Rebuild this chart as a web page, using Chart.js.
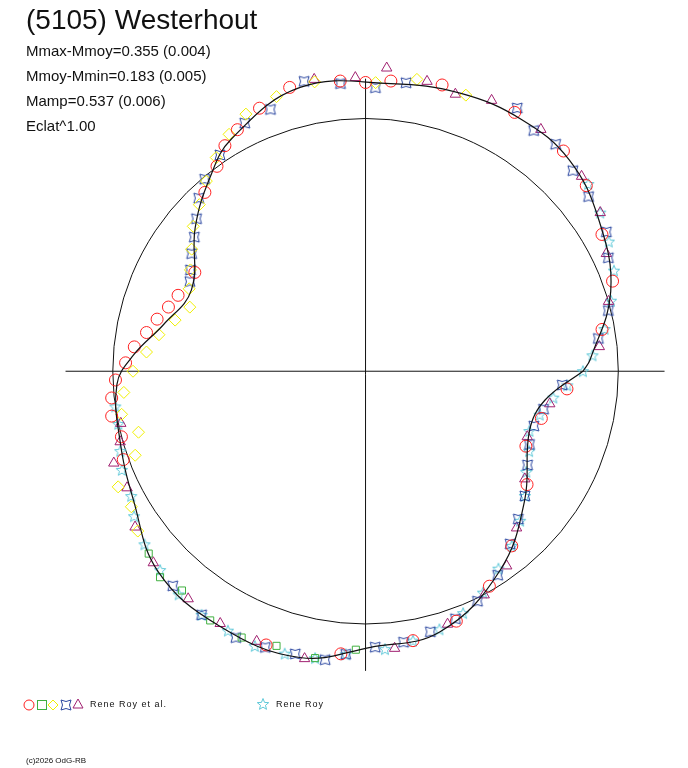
<!DOCTYPE html>
<html><head><meta charset="utf-8">
<script src="https://cdn.jsdelivr.net/npm/chart.js@4"></script>
<style>
body{margin:0;background:#fff;font-family:"Liberation Sans",Arial,sans-serif;}
#wrap{position:relative;width:688px;height:768px;}
.t{position:absolute;color:#111;white-space:nowrap;}
</style></head><body>
<div id="wrap">
<canvas id="c" width="688" height="768"></canvas>
<div class="t" style="left:26px;top:4px;font-size:28px;">(5105) Westerhout</div>
<div class="t" style="left:26px;top:42px;font-size:15px;">Mmax-Mmoy=0.355 (0.004)</div>
<div class="t" style="left:26px;top:67px;font-size:15px;">Mmoy-Mmin=0.183 (0.005)</div>
<div class="t" style="left:26px;top:92px;font-size:15px;">Mamp=0.537 (0.006)</div>
<div class="t" style="left:26px;top:117px;font-size:15px;">Eclat^1.00</div>
<div class="t" style="left:90px;top:699px;font-size:9px;letter-spacing:1px;">Rene Roy et al.</div>
<div class="t" style="left:276px;top:699px;font-size:9px;letter-spacing:1px;">Rene Roy</div>
<div class="t" style="left:26px;top:756px;font-size:8px;">(c)2026 OdG-RB</div>
</div>
<script>
// Model curve (angle deg, radius in circle units)
const modelAng = [0,3,18,33,46,58,71,85,103,120,129,140,155,167,176,183,196,209,224,240,257,271,286,304,321,340,351,360];
const modelR   = [0.86,0.89,1.02,1.10,1.16,1.17,1.16,1.14,1.15,1.06,0.98,0.88,0.76,0.82,0.92,0.985,1.01,1.05,1.14,1.16,1.16,1.09,1.07,0.95,0.81,0.69,0.72,0.86];

const redAng = [95,105,112,118,122,126,132,150,158,162,166,170,174,178,182,186,190,195,200,60,48,40,30,20,10,355,345,335,325,310,300,290,280,265,250,75,85,90];
const redR   = [1.15,1.16,1.12,1.08,1.05,1.0,0.95,0.78,0.80,0.82,0.85,0.88,0.92,0.95,0.99,1.01,1.02,1.0,1.02,1.18,1.17,1.14,1.08,1.04,0.95,0.8,0.72,0.7,0.78,0.9,0.98,1.05,1.08,1.12,1.15,1.17,1.15,1.14];
const greenAng = [220,225,230,238,245,252,260,268];
const greenR   = [1.12,1.15,1.13,1.16,1.16,1.14,1.15,1.1];
const yellowAng = [100,108,115,120,125,130,135,140,145,150,155,160,165,170,175,180,185,190,195,200,205,210,215,88,80,70];
const yellowR   = [1.16,1.14,1.12,1.08,1.03,0.98,0.93,0.89,0.84,0.80,0.77,0.74,0.78,0.83,0.87,0.92,0.96,0.98,0.93,0.97,1.08,1.07,1.1,1.14,1.17,1.16];
const blueAng = [82,88,95,102,110,116,124,130,134,138,142,146,150,153,60,55,50,44,38,30,25,14,8,356,348,342,336,330,322,316,310,303,296,290,284,278,272,266,262,256,250,244,236,228];
const blueR   = [1.15,1.12,1.14,1.17,1.1,1.09,1.03,0.99,0.95,0.9,0.86,0.83,0.80,0.78,1.2,1.16,1.17,1.14,1.12,1.1,1.06,0.99,0.93,0.78,0.72,0.70,0.71,0.74,0.8,0.84,0.89,0.96,1.01,1.04,1.06,1.08,1.09,1.12,1.15,1.15,1.16,1.17,1.16,1.14];
const magAng = [86,78,72,65,54,42,34,26,16,6,350,338,326,314,306,298,288,276,258,248,240,232,222,214,206,200,196,192,100,92];
const magR   = [1.2,1.17,1.15,1.18,1.18,1.15,1.12,1.06,1.0,0.93,0.74,0.69,0.76,0.86,0.95,1.0,1.05,1.1,1.16,1.15,1.15,1.14,1.13,1.1,1.05,1.06,1.01,0.99,1.17,1.16];
const cyanAng = [188,192,198,202,208,212,218,224,230,236,242,248,254,260,266,274,280,286,292,298,304,310,316,322,328,334,340,346,352,356,0,4,10,16,22,28,34,40];
const cyanR   = [1.0,1.0,1.02,1.04,1.05,1.08,1.11,1.13,1.15,1.16,1.16,1.17,1.16,1.15,1.12,1.1,1.08,1.06,1.03,0.99,0.94,0.9,0.85,0.8,0.75,0.72,0.69,0.71,0.75,0.8,0.86,0.9,0.96,1.01,1.06,1.09,1.12,1.15];

function pts(a, r){ return a.map((d,i)=>({x:r[i]*Math.cos(d*Math.PI/180), y:r[i]*Math.sin(d*Math.PI/180)})); }

function shape(color, draw){
  const c=document.createElement('canvas'); c.width=14;c.height=14;
  const g=c.getContext('2d'); g.strokeStyle=color; g.lineWidth=1; g.beginPath(); draw(g); g.closePath(); g.stroke(); return c;
}
const starImg = shape('#5ec8d8', g=>{for(let i=0;i<10;i++){const rr=i%2?2.6:6;const a=-Math.PI/2+i*Math.PI/5;const x=7+rr*Math.cos(a),y=7.5+rr*Math.sin(a);i?g.lineTo(x,y):g.moveTo(x,y);}});
const blueImg = shape('#2a46a0', g=>{g.moveTo(2,2);g.quadraticCurveTo(7,5,12,2);g.quadraticCurveTo(9,7,12,12);g.quadraticCurveTo(7,9,2,12);g.quadraticCurveTo(5,7,2,2);});

const U=258, CX=366, CY=371;
const deco = {
  id:'deco',
  beforeDatasetsDraw(ch){
    const g=ch.ctx, x=ch.scales.x, y=ch.scales.y;
    g.save(); g.strokeStyle='#111'; g.lineWidth=1;
    g.beginPath(); g.moveTo(x.getPixelForValue(-1.187),y.getPixelForValue(0)); g.lineTo(x.getPixelForValue(1.183),y.getPixelForValue(0)); g.stroke();
    g.beginPath(); g.moveTo(x.getPixelForValue(0),y.getPixelForValue(1.155)); g.lineTo(x.getPixelForValue(0),y.getPixelForValue(-1.183)); g.stroke();
    g.beginPath(); g.arc(x.getPixelForValue(0),y.getPixelForValue(0),x.getPixelForValue(1)-x.getPixelForValue(0),0,2*Math.PI); g.stroke();
    g.restore();
  },
  afterDraw(ch){
    const g=ch.ctx; g.save(); g.lineWidth=1;
    const cy=705;
    g.strokeStyle='#ff2020'; g.beginPath(); g.arc(29,cy,5,0,2*Math.PI); g.stroke();
    g.strokeStyle='#40b040'; g.strokeRect(37.5,cy-4.5,9,9);
    g.strokeStyle='#f0f000'; g.beginPath(); g.moveTo(53,cy-5);g.lineTo(58,cy);g.lineTo(53,cy+5);g.lineTo(48,cy);g.closePath(); g.stroke();
    g.drawImage(blueImg,59,cy-7);
    g.strokeStyle='#a02070'; g.beginPath(); g.moveTo(78,cy-6);g.lineTo(83,cy+3);g.lineTo(73,cy+3);g.closePath(); g.stroke();
    g.drawImage(starImg,256,cy-8);
    g.restore();
  }
};

const ds=(lab,a,r,style,color,rad)=>({label:lab,data:pts(a,r),showLine:false,pointStyle:style,pointRadius:rad||5.5,pointBorderColor:color,pointBackgroundColor:'rgba(0,0,0,0)',pointBorderWidth:1});

new Chart(document.getElementById('c'),{
  type:'scatter',
  data:{datasets:[
    {label:'model',data:pts(modelAng,modelR),showLine:true,borderColor:'#111',borderWidth:1.2,pointRadius:0,tension:0.4},
    ds('red',redAng,redR,'circle','#ff2020',6),
    ds('green',greenAng,greenR,'rect','#40b040',5),
    ds('yellow',yellowAng,yellowR,'rectRot','#f0f000',6),
    ds('blue',blueAng,blueR,blueImg,'#2a46a0'),
    ds('magenta',magAng,magR,'triangle','#a02070',6),
    ds('cyan',cyanAng,cyanR,starImg,'#5ec8d8')
  ]},
  options:{
    responsive:false,animation:false,
    layout:{padding:0},
    plugins:{legend:{display:false},tooltip:{enabled:false}},
    scales:{
      x:{display:false,type:'linear',min:-CX/U,max:(688-CX)/U},
      y:{display:false,type:'linear',min:-(768-CY)/U,max:CY/U}
    }
  },
  plugins:[deco]
});
</script>
</body></html>
